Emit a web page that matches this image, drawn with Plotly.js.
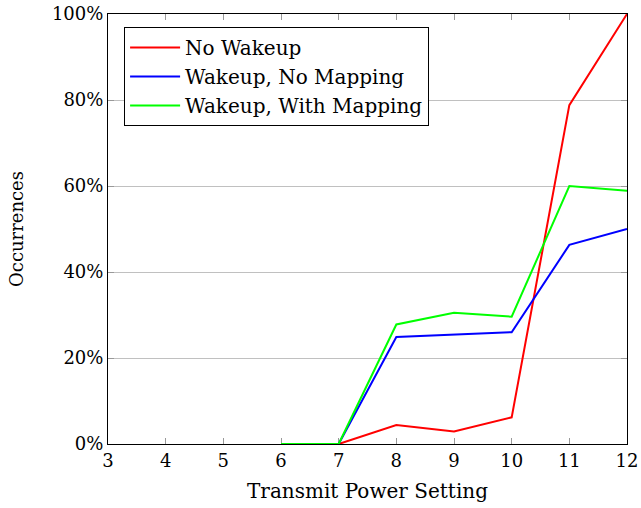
<!DOCTYPE html>
<html>
<head>
<meta charset="utf-8">
<script src="https://cdn.plot.ly/plotly-3.0.1.min.js"></script>
<style>html,body{margin:0;padding:0;background:#fff;}#chart{width:641px;height:508px;}</style>
</head>
<body>
<div id="chart"></div>
<script>
const seriesNames = ["No Wakeup", "Wakeup, No Mapping", "Wakeup, With Mapping"];
const xNoWakeup = [7, 8, 9, 10, 11, 12];
const yNoWakeup = [0, 4.4, 2.9, 6.2, 78.8, 100];
const xNoMapping = [6, 7, 8, 9, 10, 11, 12];
const yNoMapping = [0, 0, 24.9, 25.5, 26.0, 46.3, 50.0];
const xWithMapping = [6, 7, 8, 9, 10, 11, 12];
const yWithMapping = [0, 0, 27.8, 30.5, 29.6, 60.0, 58.9];
const xTicks = [3, 4, 5, 6, 7, 8, 9, 10, 11, 12];
const yTicks = [0, 20, 40, 60, 80, 100];
const yTickLabels = ["0%", "20%", "40%", "60%", "80%", "100%"];
const colors = ["#ff0000", "#0000ff", "#00ff00"];

const font = "DejaVu Serif";
const xs = [xNoWakeup, xNoMapping, xWithMapping];
const ys = [yNoWakeup, yNoMapping, yWithMapping];
const data = seriesNames.map((n, i) => ({
  x: xs[i], y: ys[i], name: n, type: 'scatter', mode: 'lines', cliponaxis: false,
  line: {color: colors[i], width: 2}
}));

const layout = {
  width: 641, height: 508,
  margin: {l: 108, r: 14, t: 14, b: 64},
  paper_bgcolor: '#fff', plot_bgcolor: '#fff',
  font: {family: font, size: 18, color: '#000'},
  showlegend: true,
  legend: {x: 0.031, y: 0.97, xanchor: 'left', yanchor: 'top',
    bordercolor: '#000', borderwidth: 1, bgcolor: '#fff', itemwidth: 50,
    font: {family: font, size: 20}, tracegroupgap: 0},
  xaxis: {
    range: [3, 12], tickvals: xTicks, ticks: 'inside', ticklen: 6, tickcolor: '#999',
    showline: true, linecolor: '#000', linewidth: 1, mirror: 'ticks',
    showgrid: false, zeroline: false, layer: 'below traces',
    title: {text: 'Transmit Power Setting', font: {family: font, size: 20}, standoff: 14},
    tickfont: {family: font, size: 18}
  },
  yaxis: {
    range: [0, 100], tickvals: yTicks, ticktext: yTickLabels, ticks: 'inside', ticklen: 6, tickcolor: '#999',
    showline: true, linecolor: '#000', linewidth: 1, mirror: 'ticks',
    showgrid: true, gridcolor: '#c0c0c0', gridwidth: 1, zeroline: false, layer: 'below traces',
    title: {text: 'Occurrences', font: {family: font, size: 18}, standoff: 23},
    tickfont: {family: font, size: 18}
  }
};
Plotly.newPlot('chart', data, layout, {displayModeBar: false, staticPlot: true});
</script>
</body>
</html>
